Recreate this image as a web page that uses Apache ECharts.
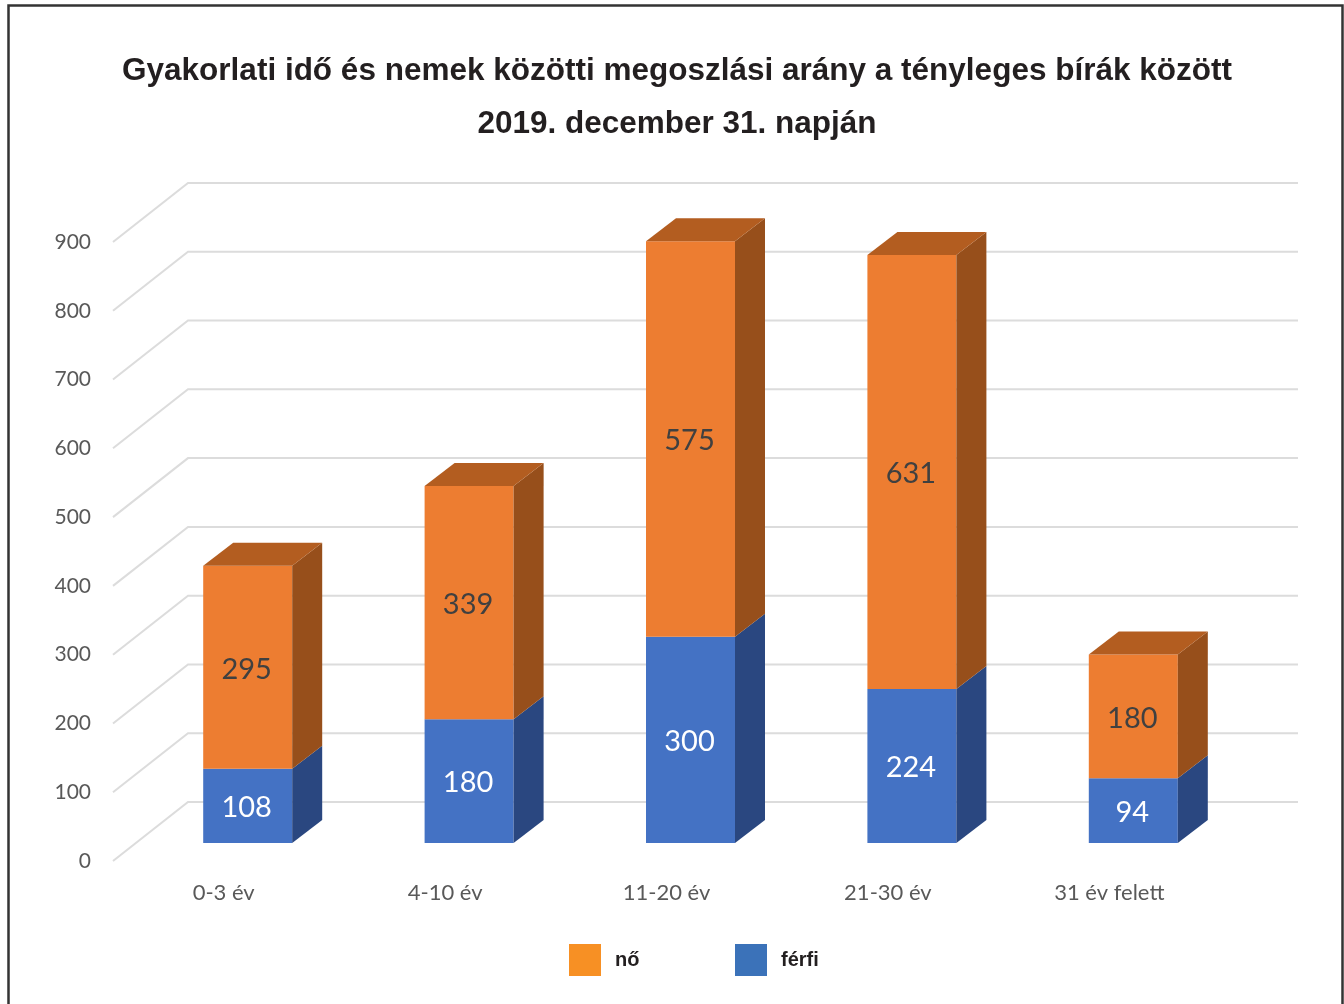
<!DOCTYPE html>
<html>
<head>
<meta charset="utf-8">
<title>Gyakorlati idő és nemek</title>
<style>
	html, body { margin: 0; padding: 0; background: #fff; }
	#main { width: 1344px; height: 1004px; }
</style>
<script src="https://cdn.jsdelivr.net/npm/echarts@6/dist/echarts.min.js"></script>
</head>
<body>
<div id="main"></div>
<script>
	var categories = ['0-3 év', '4-10 év', '11-20 év', '21-30 év', '31 év felett'];
	var ferfi = [108, 180, 300, 224, 94];
	var no = [295, 339, 575, 631, 180];
	var yTicks = [0, 100, 200, 300, 400, 500, 600, 700, 800, 900];

	// eltolások a 3D hatáshoz (px)
	var WALL_DX = 75, WALL_DY = -59;
	var BAR_DX = 24, BAR_DY = -18;
	var DEPTH_DX = 30, DEPTH_DY = -23;
	var BAR_W = 89;

	var myChart = echarts.init(document.getElementById('main'));

	function renderGrid(params, api) {
		var p = api.coord([0, api.value(0)]);
		var x0 = params.coordSys.x;
		var x1 = x0 + params.coordSys.width;
		var y = p[1];
		return {
			type: 'polyline',
			silent: true,
			shape: { points: [[x0, y], [x0 + WALL_DX, y + WALL_DY], [x1 + WALL_DX + 3, y + WALL_DY]] },
			style: { stroke: '#dcdcdc', lineWidth: 2, fill: null }
		};
	}

	function makeBox(front, side, top, textColor, withTop) {
		return function (params, api) {
			var base = api.coord([api.value(0), api.value(1)]);
			var end = api.coord([api.value(0), api.value(1) + api.value(2)]);
			var l = base[0] + BAR_DX - BAR_W / 2;
			var r = l + BAR_W;
			var b = base[1] + BAR_DY;
			var t = end[1] + BAR_DY;
			var children = [
				{ type: 'rect', shape: { x: l, y: t, width: BAR_W, height: b - t }, style: { fill: front } },
				{ type: 'polygon', shape: { points: [[r, b], [r + DEPTH_DX, b + DEPTH_DY], [r + DEPTH_DX, t + DEPTH_DY], [r, t]] }, style: { fill: side } }
			];
			if (withTop) {
				children.push({ type: 'polygon', shape: { points: [[l, t], [l + DEPTH_DX, t + DEPTH_DY], [r + DEPTH_DX, t + DEPTH_DY], [r, t]] }, style: { fill: top } });
			}
			children.push({
				type: 'text',
				style: {
					text: String(api.value(2)),
					x: (l + r) / 2 - 1,
					y: (t + b) / 2 + 2,
					align: 'center',
					verticalAlign: 'middle',
					fill: textColor,
					font: '29px Lato'
				}
			});
			return { type: 'group', children: children };
		};
	}

	myChart.setOption({
		animation: false,
		backgroundColor: '#ffffff',
		title: {
			text: 'Gyakorlati idő és nemek közötti megoszlási arány a tényleges bírák között\n2019. december 31. napján',
			left: 677,
			top: 45,
			padding: 0,
			textAlign: 'center',
			textStyle: {
				fontFamily: 'Liberation Sans',
				fontWeight: 'bold',
				fontSize: 31.5,
				lineHeight: 53,
				color: '#231f20'
			}
		},
		legend: [
			{
				left: 569, top: 944, padding: 0, itemWidth: 32, itemHeight: 32, icon: 'rect', itemGap: 0,
				selectedMode: false,
				data: [{ name: 'nő', itemStyle: { color: '#f79024' } }],
				textStyle: { fontFamily: 'Liberation Sans', fontWeight: 'bold', fontSize: 20, color: '#231f20', padding: [7, 0, 0, 9] }
			},
			{
				left: 735, top: 944, padding: 0, itemWidth: 32, itemHeight: 32, icon: 'rect', itemGap: 0,
				selectedMode: false,
				data: [{ name: 'férfi', itemStyle: { color: '#3b72b9' } }],
				textStyle: { fontFamily: 'Liberation Sans', fontWeight: 'bold', fontSize: 20, color: '#231f20', padding: [7, 0, 0, 9] }
			}
		],
		grid: { left: 113, right: 124, top: 242, bottom: 143 },
		xAxis: {
			type: 'category',
			data: categories,
			axisLine: { show: false },
			axisTick: { show: false },
			axisLabel: { margin: 21, fontFamily: 'Lato', fontSize: 22, color: '#595959' }
		},
		yAxis: {
			type: 'value',
			min: 0,
			max: 900,
			interval: 100,
			splitLine: { show: false },
			axisLine: { show: false },
			axisTick: { show: false },
			axisLabel: { margin: 22, fontFamily: 'Lato', fontSize: 21, color: '#595959' }
		},
		graphic: [{
			type: 'rect',
			silent: true,
			z: 100,
			shape: { x: 8.5, y: 5.5, width: 1334, height: 1100 },
			style: { fill: null, stroke: '#333333', lineWidth: 2.5 }
		}],
		series: [
			{
				name: 'rács',
				type: 'custom',
				z: 1,
				silent: true,
				renderItem: renderGrid,
				encode: { y: 0 },
				data: yTicks.map(function (v) { return [v]; })
			},
			{
				name: 'férfi',
				type: 'custom',
				z: 2,
				silent: true,
				itemStyle: { color: '#3b72b9' },
				renderItem: makeBox('#4472c4', '#2a4780', '#2a4780', '#ffffff', false),
				encode: { x: 0, y: [1, 2] },
				data: categories.map(function (c, i) { return [i, 0, ferfi[i]]; })
			},
			{
				name: 'nő',
				type: 'custom',
				z: 2,
				silent: true,
				itemStyle: { color: '#f79024' },
				renderItem: makeBox('#ed7d31', '#974f1b', '#b35d20', '#404040', true),
				encode: { x: 0, y: [1, 2] },
				data: categories.map(function (c, i) { return [i, ferfi[i], no[i]]; })
			}
		]
	});
</script>
</body>
</html>
